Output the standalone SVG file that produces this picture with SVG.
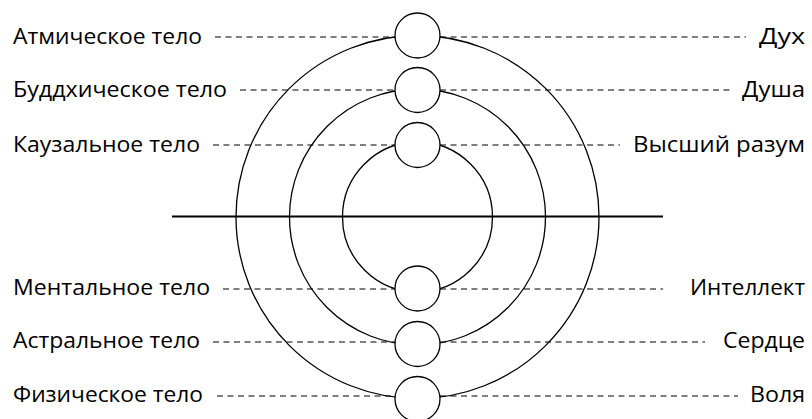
<svg xmlns="http://www.w3.org/2000/svg" width="812" height="419" viewBox="0 0 812 419">
<style>
  .lbl { font-family: "Open Sans", "Noto Sans", "DejaVu Sans", sans-serif; font-size: 22px; fill: #000; }
  .r { text-anchor: end; }
  .orb { fill: #fff; stroke: #000; stroke-width: 1.3; }
  .ring { fill: none; stroke: #000; stroke-width: 1.3; }
  .dash { stroke: #000; stroke-width: 1.1; stroke-dasharray: 6 4.5; fill: none; }
</style>
<rect width="812" height="419" fill="#fff"/>
<g id="rings">
  <circle class="ring" cx="417.5" cy="217" r="181.5"/>
  <circle class="ring" cx="417.5" cy="217" r="128"/>
  <circle class="ring" cx="417.5" cy="217" r="75"/>
</g>
<line x1="172" y1="216.5" x2="663" y2="216.5" stroke="#000" stroke-width="2.2"/>
<g id="connectors">
  <line class="dash" x1="215" y1="37" x2="395" y2="37"/>
  <line class="dash" x1="440" y1="37" x2="746" y2="37"/>
  <line class="dash" x1="240" y1="90" x2="395" y2="90"/>
  <line class="dash" x1="440" y1="90" x2="733" y2="90"/>
  <line class="dash" x1="213" y1="145" x2="395" y2="145"/>
  <line class="dash" x1="440" y1="145" x2="620" y2="145"/>
  <line class="dash" x1="223" y1="289" x2="395" y2="289"/>
  <line class="dash" x1="440" y1="289" x2="663" y2="289"/>
  <line class="dash" x1="213" y1="342" x2="395" y2="342"/>
  <line class="dash" x1="440" y1="342" x2="705" y2="342"/>
  <line class="dash" x1="217" y1="396" x2="395" y2="396"/>
  <line class="dash" x1="440" y1="396" x2="738" y2="396"/>
</g>
<g id="orb1"><circle class="orb" cx="417.5" cy="35.5" r="22.5"/></g>
<g id="orb2"><circle class="orb" cx="417.5" cy="90" r="22.5"/></g>
<g id="orb3"><circle class="orb" cx="417.5" cy="145" r="22.5"/></g>
<g id="orb4"><circle class="orb" cx="417.5" cy="288.5" r="22.5"/></g>
<g id="orb5"><circle class="orb" cx="417.5" cy="344" r="22.5"/></g>
<g id="orb6"><circle class="orb" cx="417.5" cy="399" r="22.5"/></g>
<g id="label-atmic"><text class="lbl" x="13" y="44" textLength="189" lengthAdjust="spacingAndGlyphs">Атмическое тело</text></g>
<g id="label-buddhic"><text class="lbl" x="13" y="97" textLength="214" lengthAdjust="spacingAndGlyphs">Буддхическое тело</text></g>
<g id="label-causal"><text class="lbl" x="13" y="152" textLength="187" lengthAdjust="spacingAndGlyphs">Каузальное тело</text></g>
<g id="label-mental"><text class="lbl" x="13" y="295" textLength="197" lengthAdjust="spacingAndGlyphs">Ментальное тело</text></g>
<g id="label-astral"><text class="lbl" x="13" y="348" textLength="187" lengthAdjust="spacingAndGlyphs">Астральное тело</text></g>
<g id="label-physical"><text class="lbl" x="13" y="402" textLength="190" lengthAdjust="spacingAndGlyphs">Физическое тело</text></g>
<g id="label-spirit"><text class="lbl r" x="805" y="44" textLength="46" lengthAdjust="spacingAndGlyphs">Дух</text></g>
<g id="label-soul"><text class="lbl r" x="805" y="97" textLength="63" lengthAdjust="spacingAndGlyphs">Душа</text></g>
<g id="label-mind"><text class="lbl r" x="805" y="152" textLength="172" lengthAdjust="spacingAndGlyphs">Высший разум</text></g>
<g id="label-intellect"><text class="lbl r" x="805" y="295" textLength="115" lengthAdjust="spacingAndGlyphs">Интеллект</text></g>
<g id="label-heart"><text class="lbl r" x="805" y="348" textLength="82" lengthAdjust="spacingAndGlyphs">Сердце</text></g>
<g id="label-will"><text class="lbl r" x="805" y="402" textLength="55" lengthAdjust="spacingAndGlyphs">Воля</text></g>
</svg>
